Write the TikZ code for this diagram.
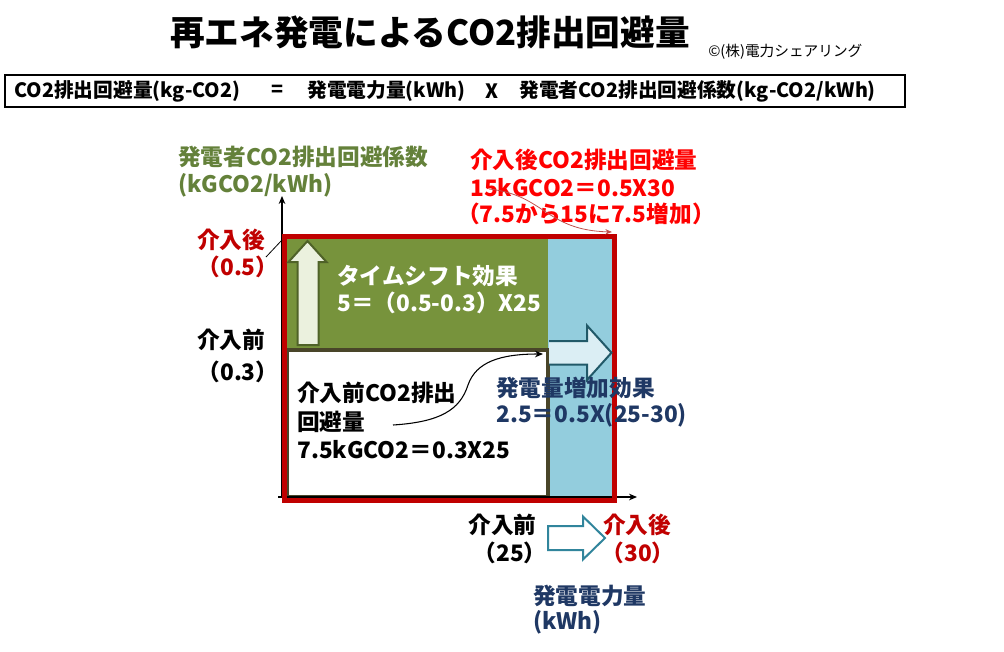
\documentclass[tikz,border=0pt]{standalone}
\usepackage{fontspec}
\setmainfont{Noto Sans CJK JP}
\usetikzlibrary{arrows.meta}
\definecolor{dred}{HTML}{C00000}
\definecolor{bred}{HTML}{FF0000}
\definecolor{gfill}{HTML}{77933C}
\definecolor{gtext}{HTML}{64813A}
\definecolor{bfill}{HTML}{93CDDD}
\definecolor{afill}{HTML}{DBEEF4}
\definecolor{aline}{HTML}{215968}
\definecolor{upfill}{HTML}{EBF1DE}
\definecolor{upline}{HTML}{4F6228}
\definecolor{wline}{HTML}{494529}
\definecolor{btext}{HTML}{1F3864}
\definecolor{hline}{HTML}{31859C}
\definecolor{curvered}{HTML}{C0504D}
\tikzset{
  lbl/.style={font=\bfseries\fontsize{17}{18}\selectfont, inner sep=0pt, anchor=west},
  clbl/.style={font=\bfseries\fontsize{17}{18}\selectfont, inner sep=0pt, anchor=center},
  ftxt/.style={font=\bfseries\fontsize{14.8}{16}\selectfont, inner sep=0pt},
}
\begin{document}
\begin{tikzpicture}[x=0.75pt,y=-0.75pt]
\useasboundingbox (0,0) rectangle (1004,651);
% title
\node[font=\bfseries\fontsize{26}{30}\selectfont, inner sep=0pt] (title) at (430,32) {再エネ発電によるCO2排出回避量};
\node[font=\fontsize{11}{12}\selectfont, inner sep=0pt, anchor=west] (copy) at (708,52) {©(株)電力シェアリング};
% formula box
\node[draw=black, line width=0.9pt, minimum width=675pt, minimum height=24pt, inner sep=0pt] (fbox) at (455,91) {};
\node[ftxt, anchor=west] (f1) at (14,91) {CO2排出回避量(kg-CO2)};
\node[ftxt] (f2) at (278,91) {=};
\node[ftxt, anchor=west] (f3) at (307,91) {発電電力量(kWh)};
\node[ftxt] (f4) at (492,91) {X};
\node[ftxt, anchor=west] (f5) at (519,91) {発電者CO2排出回避係数(kg-CO2/kWh)};
% areas
\fill[bfill] (548,239) rectangle (612,498);
\fill[gfill] (286,239) rectangle (548,350);
\draw[wline, line width=3pt, fill=white] (287,350) rectangle (548,497);
% axes
\coordinate (o) at (282,497);
\coordinate (ytop) at (282,196);
\coordinate (xend) at (637,497);
\draw[-{Stealth[length=6pt,width=5pt]}, line width=0.8pt] (278,497) -- (xend);
\draw[-{Stealth[length=6pt,width=5pt]}, line width=0.8pt] (o) -- (ytop);
% red outline
\draw[dred, line width=3.75pt] (284,236.5) rectangle (614,500.5);
% up arrow
\draw[upline, line width=1.5pt, fill=upfill, line join=miter]
  (297.5,345) -- (297.5,262) -- (288.5,262) -- (307.5,241) -- (326.5,262) -- (318.5,262) -- (318.5,345) -- cycle;
% right arrow in blue
\draw[aline, line width=1.5pt, fill=afill, line join=miter]
  (549,341) -- (587,341) -- (587,325.5) -- (611.5,352.7) -- (587,380) -- (587,364.5) -- (549,364.5);
% lower hollow arrow
\draw[hline, line width=1.5pt, fill=white, line join=miter]
  (548,526) -- (583,526) -- (583,516.5) -- (605,538) -- (583,559.5) -- (583,550) -- (548,550) -- cycle;
% green axis label
\node[lbl, text=gtext] (g1) at (178,157) {発電者CO2排出回避係数};
\node[lbl, text=gtext] (g2) at (178,185) {(kGCO2/kWh)};
% red top label
\node[lbl, text=bred] (r1) at (470,160) {介入後CO2排出回避量};
\node[lbl, text=bred] (r2) at (470,188) {15kGCO2＝0.5X30};
\node[lbl, text=bred] (r3) at (457,214) {（7.5から15に7.5増加）};
\coordinate (rc) at (612,232);
\draw[curvered, line width=0.6pt, -{Stealth[length=5pt,width=4pt]}]
  (489,189) .. controls (545,195) and (545,230) .. (rc);
% y labels
\node[clbl, text=dred] (after) at (231,240) {介入後};
\node[clbl, text=dred] (after2) at (238,267) {（0.5）};
\coordinate (yl) at (282,240);
\draw[line width=0.6pt] (266,257) -- (yl);
\node[clbl] (before) at (231,340) {介入前};
\node[clbl] (before2) at (238,372) {（0.3）};
% inner labels
\node[lbl, text=white] (ts1) at (337,276) {タイムシフト効果};
\node[lbl, text=white] (ts2) at (337,303) {5＝（0.5-0.3）X25};
\node[lbl] (b1) at (297,393) {介入前CO2排出};
\node[lbl] (b2) at (297,422) {回避量};
\node[lbl] (b3) at (297,450) {7.5kGCO2＝0.3X25};
\coordinate (bc) at (543,354);
\draw[line width=0.8pt, -{Stealth[length=6pt,width=5pt]}]
  (393,425) .. controls (440,422) and (460,410) .. (468,385)
  .. controls (476,362) and (500,354) .. (bc);
\node[lbl, text=btext] (inc1) at (496,388) {発電量増加効果};
\node[lbl, text=btext] (inc2) at (496,415) {2.5＝0.5X(25-30)};
% x labels
\node[clbl] (xb1) at (502.5,525) {介入前};
\node[clbl] (xb2) at (510,553) {（25）};
\node[clbl, text=dred] (xa1) at (637,525) {介入後};
\node[clbl, text=dred] (xa2) at (638,553) {（30）};
\node[lbl, text=btext] (xl1) at (533,596) {発電電力量};
\node[lbl, text=btext] (xl2) at (533,622) {(kWh)};
\end{tikzpicture}
\end{document}
